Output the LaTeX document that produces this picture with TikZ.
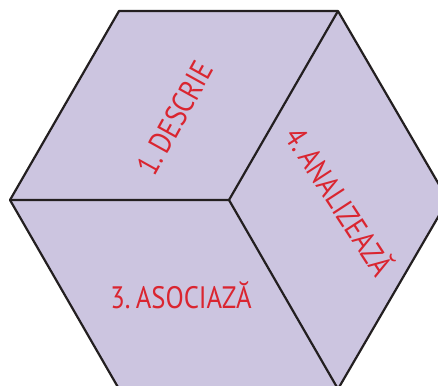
\documentclass[tikz,border=0pt]{standalone}
\usepackage{fontspec}
\setmainfont{PT Sans}
\newfontfamily\labelfont[FakeStretch=0.86]{PT Sans}
\usetikzlibrary{positioning}
\definecolor{face}{RGB}{204,197,224}
\definecolor{label}{RGB}{218,37,48}
\definecolor{edge}{RGB}{35,31,32}

\begin{document}
\begin{tikzpicture}[x=1pt,y=-1pt,line width=2.2pt,line join=round,
  facetext/.style={text=label,font=\labelfont\fontsize{31}{31}\selectfont,inner sep=0pt}]
\useasboundingbox (0,0) rectangle (438,385);
% Corners of the hexagon
\coordinate (c) at (229,200);
\coordinate (tl) at (119,11);
\coordinate (tr) at (338,11);
\coordinate (r) at (448,200);
\coordinate (br) at (338,389);
\coordinate (bl) at (119,389);
\coordinate (l) at (10,200);
% Faces
\fill[face] (tl) -- (tr) -- (r) -- (br) -- (bl) -- (l) -- cycle;
\draw[edge] (tl) -- (tr) -- (r) -- (br) -- (bl) -- (l) -- cycle;
\draw[edge] (l) -- (c) -- (tr);
\draw[edge] (c) -- (br);
% Labels
\node[facetext,rotate=61] (describe) at (175,118) {1.\,DESCRIE};
\node[facetext,rotate=-57] (analyze) at (341,200) {4.\,ANALIZEAZĂ};
\node[facetext] (associate) at (181,295) {3.\,ASOCIAZĂ};
\end{tikzpicture}
\end{document}
